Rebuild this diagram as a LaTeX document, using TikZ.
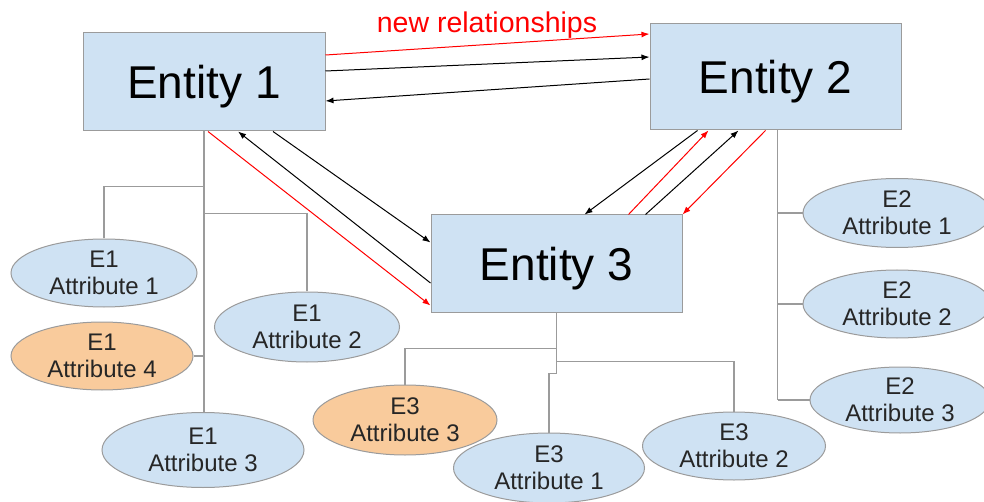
\documentclass[tikz,border=0pt]{standalone}
\usepackage{fontspec}
\setmainfont{Liberation Sans}
\usetikzlibrary{shapes.geometric,arrows.meta}

\definecolor{boxblue}{RGB}{207,226,243}
\definecolor{boxorange}{RGB}{249,203,156}
\definecolor{edgegray}{RGB}{155,155,155}

\tikzset{
  entity/.style={draw=edgegray, fill=boxblue, line width=1pt, inner sep=0pt,
    text depth=0pt, font=\fontsize{46}{52}\selectfont},
  attr/.style={ellipse, draw=edgegray, fill=boxblue, line width=1pt, inner sep=0pt,
    align=center, text=black!85, font=\fontsize{24}{27}\selectfont},
  keyattr/.style={attr, fill=boxorange},
  tree/.style={draw=edgegray, line width=1.2pt},
  rel/.style={line width=1pt, -{Latex[length=8pt,width=6pt]}},
  newrel/.style={rel, red}
}

\begin{document}
\begin{tikzpicture}[x=1pt,y=-1pt]
\useasboundingbox (0,0) rectangle (984,502);
\clip (0,0) rectangle (984,502);
% Entities
\node[entity, minimum width=242, minimum height=98] (e1) at (204,82) {Entity 1};
\node[entity, minimum width=251, minimum height=106] (e2) at (775.5,77) {Entity 2};
\node[entity, minimum width=251, minimum height=97] (e3) at (556.5,263.5) {Entity 3};
\node[red, font=\fontsize{28.5}{30}\selectfont] (newlbl) at (487,25) {new relationships};
% Attributes of Entity 1
\node[attr, minimum width=186, minimum height=68] (e1a1) at (104,273) {E1\\Attribute 1};
\node[keyattr, minimum width=182, minimum height=68] (e1a4) at (102,356) {E1\\Attribute 4};
\node[attr, minimum width=185, minimum height=70] (e1a2) at (307,327) {E1\\Attribute 2};
\node[attr, minimum width=202, minimum height=75] (e1a3) at (203,450) {E1\\Attribute 3};
% Attributes of Entity 2
\node[attr, minimum width=188, minimum height=69] (e2a1) at (897,213) {E2\\Attribute 1};
\node[attr, minimum width=188, minimum height=68] (e2a2) at (897,304) {E2\\Attribute 2};
\node[attr, minimum width=180, minimum height=66] (e2a3) at (900,400) {E2\\Attribute 3};
% Attributes of Entity 3
\node[keyattr, minimum width=184, minimum height=70] (e3a3) at (405,420) {E3\\Attribute 3};
\node[attr, minimum width=191, minimum height=70] (e3a1) at (549,468) {E3\\Attribute 1};
\node[attr, minimum width=183, minimum height=68] (e3a2) at (734,446) {E3\\Attribute 2};
% Attribute lines
\draw[tree] (e1.south) -- (e1.south |- e1a3.north);
\draw[tree] ([yshift=-55pt]e1.south) -| (e1a1.north);
\draw[tree] ([yshift=-82pt]e1.south) -| (e1a2.north);
\draw[tree] (e1a4.east) -- (e1a4.east -| e1.south);
\coordinate (e2trunk) at ([xshift=2pt]e2.south);
\draw[tree] (e2trunk) -- (e2trunk |- e2a3.west);
\draw[tree] (e2a1.west) -- (e2a1.west -| e2trunk);
\draw[tree] (e2a2.west) -- (e2a2.west -| e2trunk);
\draw[tree] (e2a3.west) -- (e2a3.west -| e2trunk);
\draw[tree] (e3.south) -- ++(0,61) -| (e3a1.north);
\draw[tree] ([yshift=-36pt]e3.south) -| (e3a3.north);
\draw[tree] ([yshift=-49pt]e3.south) -| (e3a2.north);
% Relationships 1-2
\draw[newrel] ([yshift=27pt]e1.east) -- ([yshift=43pt]e2.west);
\draw[rel] ([yshift=11pt]e1.east) -- ([yshift=20pt]e2.west);
\draw[rel] ([yshift=-2pt]e2.west) -- ([yshift=-19pt]e1.east);
% Relationships 1-3
\draw[newrel] ([xshift=4pt]e1.south) -- ([yshift=7pt]e3.south west);
\draw[rel] ([yshift=-19.5pt]e3.west) -- ([xshift=34pt]e1.south);
\draw[rel] ([xshift=69pt]e1.south) -- ([yshift=21pt]e3.west);
% Relationships 2-3
\draw[rel] ([xshift=-78pt]e2.south) -- ([xshift=28pt]e3.north);
\draw[newrel] ([xshift=72pt]e3.north) -- ([xshift=-67pt]e2.south);
\draw[rel] ([xshift=89pt]e3.north) -- ([xshift=-37pt]e2.south);
\draw[newrel] ([xshift=-10pt]e2.south) -- (e3.north east);
\end{tikzpicture}
\end{document}
